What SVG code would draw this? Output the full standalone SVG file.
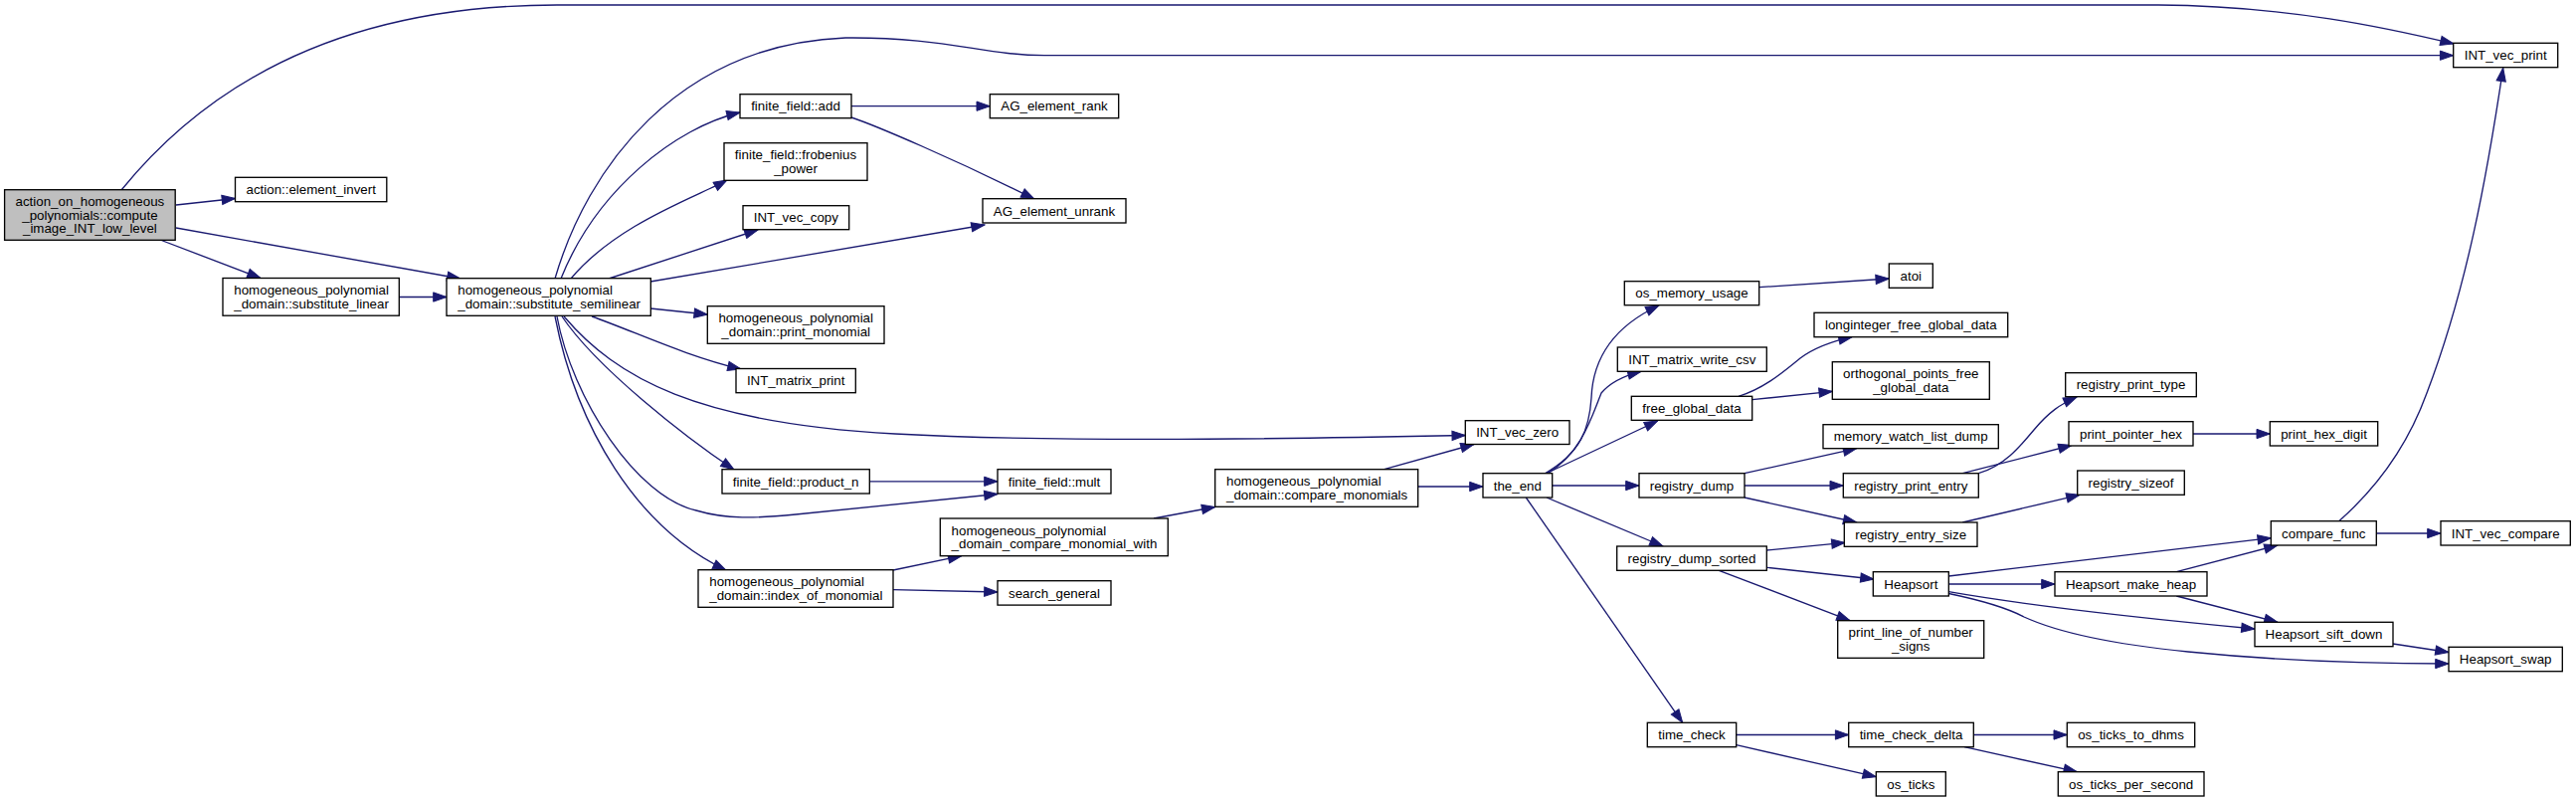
<svg xmlns="http://www.w3.org/2000/svg" width="2590" height="806" viewBox="0 0 2590 806">
<style>
.n rect{fill:#fff;stroke:#000;stroke-width:1.33}
#main rect{fill:#bfbfbf}
text{font-family:"Liberation Sans",Arial,Helvetica,sans-serif;font-size:13.33px;fill:#000}
.c{text-anchor:middle}
.e path{fill:none;stroke:#191970;stroke-width:1.33;marker-end:url(#a)}
</style>
<defs>
<marker id="a" markerWidth="16" markerHeight="12" refX="13.3" refY="4.65" orient="auto" markerUnits="userSpaceOnUse" overflow="visible">
<path d="M0,0 L13.3,4.65 L0,9.3 z" fill="#191970" stroke="#191970" stroke-width="1"/>
</marker>
</defs>
<rect width="2590" height="806" fill="#fff"/>
<g class="e" id="edges">
<path d="M122,191 C200,95 330,5 560,5 L2170,5 C2300,6 2400,28 2467,44"/>
<path d="M177,206 L236.5,199.5"/>
<path d="M161,241 L262,279.5"/>
<path d="M177,229 L463,280"/>
<path d="M401,298.5 L449,298.5"/>
<path d="M558,280 C590,170 680,45 850,38 C950,37 990,55.7 1050,55.7 L2466.7,55.7"/>
<path d="M564,280 C600,190 680,128 744,113"/>
<path d="M574,280 C620,225 700,198 731,181"/>
<path d="M612,280 L762,231"/>
<path d="M654,283 L990,226"/>
<path d="M654,310 L711.3,316"/>
<path d="M595,318 C640,334 690,358 745,371"/>
<path d="M567,318 C620,380 700,425 900,436 C1050,444 1250,442 1473.3,437.5"/>
<path d="M565,318 C600,370 690,440 738,472"/>
<path d="M560,318 C575,400 640,500 700,513 C730,522 760,521 800,517 C870,510 940,503 1003,496.5"/>
<path d="M558,318 C580,430 640,530 730,573"/>
<path d="M856,106.7 L995.3,106.7"/>
<path d="M856,118 C880,126 960,160 1040,200"/>
<path d="M874.3,483.8 L1003,483.8"/>
<path d="M898,573 L966.7,558.7"/>
<path d="M898,592.7 L1003,595"/>
<path d="M1160,521 L1221.7,509.5"/>
<path d="M1391.7,471.7 L1482,446.5"/>
<path d="M1425.7,489 L1491,489"/>
<path d="M1553,476 C1590,455 1598,430 1600,400 C1602,345 1640,320 1668,307"/>
<path d="M1556,476 C1590,455 1600,420 1610,395 C1620,383 1635,377 1650,373.3"/>
<path d="M1554,476 L1666.7,423"/>
<path d="M1560.7,488 L1648,488"/>
<path d="M1555,500 L1672,549"/>
<path d="M1534.3,500 L1691.7,726.3"/>
<path d="M1768.7,288.7 L1899.3,280"/>
<path d="M1748,398.3 C1775,390 1795,372 1810,360 C1825,349 1842,343 1862,338.7"/>
<path d="M1761.7,401.7 L1842.3,393.3"/>
<path d="M1754,475.7 L1866.7,450.7"/>
<path d="M1754,488 L1853.3,488"/>
<path d="M1754,500 L1866.7,525"/>
<path d="M1776.3,553 L1855,545.3"/>
<path d="M1776.3,570.3 L1884,582"/>
<path d="M1728.3,573.3 L1860,623.7"/>
<path d="M1989.3,475.7 C2015,468 2030,450 2045,432 C2060,414 2072,406 2088,399"/>
<path d="M1973.3,475.7 L2083,447.5"/>
<path d="M2205,436 L2282.3,436"/>
<path d="M1973.3,525 L2091,497.3"/>
<path d="M1959.3,579 L2283.3,540.7"/>
<path d="M1959.3,587 L2066,587"/>
<path d="M1959.3,594.7 C2030,607 2150,621 2267,632"/>
<path d="M1959.3,596.5 C2000,605 2020,612 2035,620 C2070,636 2130,648 2200,655 C2300,665 2400,667 2462,667"/>
<path d="M2188.3,574.7 L2290,548"/>
<path d="M2188.3,599 L2290,625.3"/>
<path d="M2406,647 L2462,655.5"/>
<path d="M2389.3,536 L2454,536"/>
<path d="M2351.7,523.7 C2390,490 2420,450 2440,395 C2480,290 2500,180 2516.7,68.3"/>
<path d="M1745.7,738.5 L1858.7,738.5"/>
<path d="M1745.7,748.7 L1886.3,780.7"/>
<path d="M1984.3,738.5 L2078.3,738.5"/>
<path d="M1975,750.7 L2088.3,775.7"/>
</g>
<g class="n" id="main"><rect x="4.6" y="190.7" width="171.6" height="50.6"/><text class="c" x="90.4" y="207.2">action_on_homogeneous</text><text class="c" x="90.4" y="220.7">_polynomials::compute</text><text class="c" x="90.4" y="234.2">_image_INT_low_level</text></g>
<g class="n" id="n_int_vec_print"><rect x="2466.7" y="43.3" width="105" height="24.4"/><text class="c" x="2519.2" y="60.2">INT_vec_print</text></g>
<g class="n" id="n_element_invert"><rect x="236.5" y="178.3" width="152.3" height="24.4"/><text class="c" x="312.7" y="195.2">action::element_invert</text></g>
<g class="n" id="n_substitute_linear"><rect x="224" y="279.5" width="177.3" height="37.7"/><text x="235.3" y="296.3">homogeneous_polynomial</text><text x="235.3" y="309.8">_domain::substitute_linear</text></g>
<g class="n" id="n_substitute_semilinear"><rect x="449" y="279.7" width="205.3" height="37.6"/><text x="460.3" y="296.45">homogeneous_polynomial</text><text x="460.3" y="309.95">_domain::substitute_semilinear</text></g>
<g class="n" id="n_ff_add"><rect x="744" y="94.7" width="112" height="24"/><text class="c" x="800" y="111.4">finite_field::add</text></g>
<g class="n" id="n_ff_frobenius"><rect x="728" y="143.7" width="144" height="37.6"/><text class="c" x="800" y="160.45">finite_field::frobenius</text><text class="c" x="800" y="173.95">_power</text></g>
<g class="n" id="n_int_vec_copy"><rect x="747" y="206.7" width="106.7" height="24"/><text class="c" x="800.35" y="223.4">INT_vec_copy</text></g>
<g class="n" id="n_ag_unrank"><rect x="988" y="199.7" width="144" height="24.3"/><text class="c" x="1060" y="216.55">AG_element_unrank</text></g>
<g class="n" id="n_print_monomial"><rect x="711.3" y="307.7" width="177.7" height="37.6"/><text class="c" x="800.2" y="324.45">homogeneous_polynomial</text><text class="c" x="800.2" y="337.95">_domain::print_monomial</text></g>
<g class="n" id="n_int_matrix_print"><rect x="740" y="370.5" width="120.3" height="24.2"/><text class="c" x="800.15" y="387.3">INT_matrix_print</text></g>
<g class="n" id="n_int_vec_zero"><rect x="1473.3" y="422.7" width="104.7" height="23.8"/><text class="c" x="1525.65" y="439.3">INT_vec_zero</text></g>
<g class="n" id="n_ff_product_n"><rect x="726" y="471.7" width="148.3" height="24.3"/><text class="c" x="800.15" y="488.55">finite_field::product_n</text></g>
<g class="n" id="n_ff_mult"><rect x="1003" y="471.7" width="114" height="24.3"/><text class="c" x="1060" y="488.55">finite_field::mult</text></g>
<g class="n" id="n_index_of_monomial"><rect x="702" y="572.7" width="196" height="37.6"/><text x="713.3" y="589.45">homogeneous_polynomial</text><text x="713.3" y="602.95">_domain::index_of_monomial</text></g>
<g class="n" id="n_compare_monomial_with"><rect x="945.3" y="521" width="229" height="37.7"/><text x="956.6" y="537.8">homogeneous_polynomial</text><text x="956.6" y="551.3">_domain_compare_monomial_with</text></g>
<g class="n" id="n_search_general"><rect x="1003" y="583.7" width="114" height="24.4"/><text class="c" x="1060" y="600.6">search_general</text></g>
<g class="n" id="n_compare_monomials"><rect x="1221.7" y="471.7" width="204" height="37.6"/><text x="1233" y="488.45">homogeneous_polynomial</text><text x="1233" y="501.95">_domain::compare_monomials</text></g>
<g class="n" id="n_the_end"><rect x="1491" y="475.7" width="69.7" height="24.3"/><text class="c" x="1525.85" y="492.55">the_end</text></g>
<g class="n" id="n_ag_rank"><rect x="995.3" y="94.7" width="129.4" height="24"/><text class="c" x="1060" y="111.4">AG_element_rank</text></g>
<g class="n" id="n_os_memory_usage"><rect x="1633.3" y="282.7" width="135.4" height="24"/><text class="c" x="1701" y="299.4">os_memory_usage</text></g>
<g class="n" id="n_atoi"><rect x="1899.3" y="265" width="44" height="24.3"/><text class="c" x="1921.3" y="281.85">atoi</text></g>
<g class="n" id="n_int_matrix_write_csv"><rect x="1626.3" y="349" width="150" height="24.3"/><text class="c" x="1701.3" y="365.85">INT_matrix_write_csv</text></g>
<g class="n" id="n_free_global_data"><rect x="1640.3" y="398.3" width="121.4" height="24"/><text class="c" x="1701" y="415">free_global_data</text></g>
<g class="n" id="n_longinteger_free"><rect x="1824" y="314.3" width="194.7" height="24.4"/><text class="c" x="1921.35" y="331.2">longinteger_free_global_data</text></g>
<g class="n" id="n_orthogonal_free"><rect x="1842.3" y="363.7" width="158" height="37.6"/><text class="c" x="1921.3" y="380.45">orthogonal_points_free</text><text class="c" x="1921.3" y="393.95">_global_data</text></g>
<g class="n" id="n_registry_dump"><rect x="1648" y="475.7" width="106" height="24.3"/><text class="c" x="1701" y="492.55">registry_dump</text></g>
<g class="n" id="n_memory_watch"><rect x="1833" y="426.7" width="176.3" height="24"/><text class="c" x="1921.15" y="443.4">memory_watch_list_dump</text></g>
<g class="n" id="n_registry_print_entry"><rect x="1853.3" y="475.7" width="136" height="24.3"/><text class="c" x="1921.3" y="492.55">registry_print_entry</text></g>
<g class="n" id="n_registry_print_type"><rect x="2076.7" y="374.7" width="131.6" height="24"/><text class="c" x="2142.5" y="391.4">registry_print_type</text></g>
<g class="n" id="n_print_pointer_hex"><rect x="2080" y="423.7" width="125" height="24.3"/><text class="c" x="2142.5" y="440.55">print_pointer_hex</text></g>
<g class="n" id="n_print_hex_digit"><rect x="2282.3" y="423.7" width="108.4" height="24.3"/><text class="c" x="2336.5" y="440.55">print_hex_digit</text></g>
<g class="n" id="n_registry_entry_size"><rect x="1854.3" y="525" width="133.7" height="24.3"/><text class="c" x="1921.15" y="541.85">registry_entry_size</text></g>
<g class="n" id="n_registry_sizeof"><rect x="2088.7" y="473" width="107.6" height="24.3"/><text class="c" x="2142.5" y="489.85">registry_sizeof</text></g>
<g class="n" id="n_registry_dump_sorted"><rect x="1625.7" y="549" width="150.6" height="24.3"/><text class="c" x="1701" y="565.85">registry_dump_sorted</text></g>
<g class="n" id="n_heapsort"><rect x="1883.3" y="574.7" width="76" height="24.3"/><text class="c" x="1921.3" y="591.55">Heapsort</text></g>
<g class="n" id="n_compare_func"><rect x="2283.3" y="523.7" width="106" height="24.3"/><text class="c" x="2336.3" y="540.55">compare_func</text></g>
<g class="n" id="n_int_vec_compare"><rect x="2454" y="523.7" width="130.3" height="24.3"/><text class="c" x="2519.15" y="540.55">INT_vec_compare</text></g>
<g class="n" id="n_heapsort_make_heap"><rect x="2066" y="574.7" width="153" height="24.3"/><text class="c" x="2142.5" y="591.55">Heapsort_make_heap</text></g>
<g class="n" id="n_heapsort_sift_down"><rect x="2267" y="625.3" width="139" height="24.4"/><text class="c" x="2336.5" y="642.2">Heapsort_sift_down</text></g>
<g class="n" id="n_heapsort_swap"><rect x="2462" y="650.3" width="114.3" height="24.4"/><text class="c" x="2519.15" y="667.2">Heapsort_swap</text></g>
<g class="n" id="n_print_line"><rect x="1847.7" y="623.7" width="147" height="37.6"/><text class="c" x="1921.2" y="640.45">print_line_of_number</text><text class="c" x="1921.2" y="653.95">_signs</text></g>
<g class="n" id="n_time_check"><rect x="1656.3" y="726.3" width="89.4" height="24.4"/><text class="c" x="1701" y="743.2">time_check</text></g>
<g class="n" id="n_time_check_delta"><rect x="1858.7" y="726.3" width="125.6" height="24.4"/><text class="c" x="1921.5" y="743.2">time_check_delta</text></g>
<g class="n" id="n_os_ticks_to_dhms"><rect x="2078.3" y="726.3" width="128.4" height="24.4"/><text class="c" x="2142.5" y="743.2">os_ticks_to_dhms</text></g>
<g class="n" id="n_os_ticks"><rect x="1886.3" y="775.7" width="70" height="24.3"/><text class="c" x="1921.3" y="792.55">os_ticks</text></g>
<g class="n" id="n_os_ticks_per_second"><rect x="2069.3" y="775.7" width="146.7" height="24.3"/><text class="c" x="2142.65" y="792.55">os_ticks_per_second</text></g>
</svg>
